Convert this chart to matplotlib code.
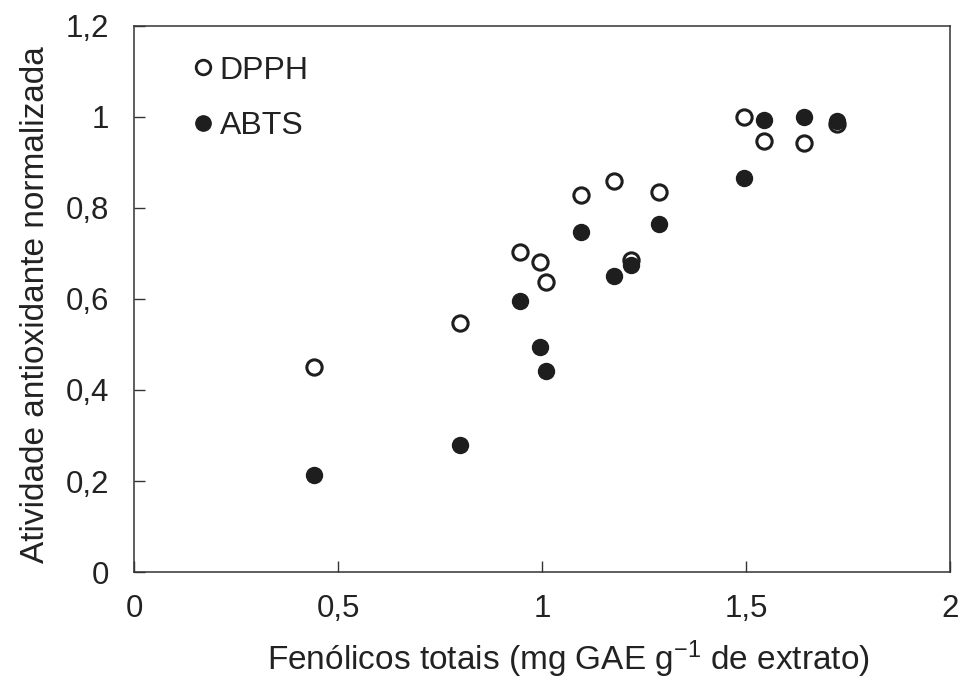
import matplotlib
matplotlib.use("Agg")
import matplotlib.pyplot as plt
from matplotlib.lines import Line2D

plt.rcParams['font.family'] = ['Liberation Sans', 'DejaVu Sans']
plt.rcParams['mathtext.default'] = 'regular'

# Data
fenolicos = [0.44, 0.80, 0.946, 0.995, 1.01, 1.095, 1.176, 1.218, 1.286, 1.494, 1.543, 1.643, 1.724]
dpph = [0.450, 0.548, 0.703, 0.681, 0.637, 0.829, 0.859, 0.686, 0.835, 1.000, 0.947, 0.943, 0.985]
abts = [0.213, 0.279, 0.596, 0.494, 0.442, 0.747, 0.651, 0.675, 0.765, 0.866, 0.993, 1.000, 0.991]

xticks = [0, 0.5, 1, 1.5, 2]
xticklabels = ['0', '0,5', '1', '1,5', '2']
yticks = [0, 0.2, 0.4, 0.6, 0.8, 1.0, 1.2]
yticklabels = ['0', '0,2', '0,4', '0,6', '0,8', '1', '1,2']

fig = plt.figure(figsize=(9.6, 6.81), dpi=100)
ax = fig.add_axes([0.1396, 0.160, 0.850, 0.802])

col = '#1e1e1e'
txt = '#222222'
ax.plot(fenolicos, abts, linestyle='none', marker='o', markersize=11.5,
        markerfacecolor=col, markeredgecolor=col, markeredgewidth=1, label='ABTS', zorder=3)
ax.plot(fenolicos, dpph, linestyle='none', marker='o', markersize=11,
        markerfacecolor='white', markeredgecolor=col, markeredgewidth=2.2, label='DPPH', zorder=2)

ax.set_xlim(0, 2)
ax.set_ylim(0, 1.2)
ax.set_xticks(xticks)
ax.set_xticklabels(xticklabels)
ax.set_yticks(yticks)
ax.set_yticklabels(yticklabels)
ax.tick_params(direction='in', length=8, width=1, colors='#333333', labelcolor=txt,
               labelsize=22.5)
ax.tick_params(axis='x', pad=16)
ax.tick_params(axis='y', pad=18)
for s in ax.spines.values():
    s.set_color('#333333')
    s.set_linewidth(1.1)

ax.set_xlabel('Fenólicos totais (mg GAE g$^{-1}$ de extrato)', fontsize=24, color=txt)
ax.set_ylabel('Atividade antioxidante normalizada', fontsize=24, color=txt)
ax.xaxis.label.set_va('center')
ax.yaxis.label.set_va('center')
ax.xaxis.set_label_coords(0.533, -0.160)
ax.yaxis.set_label_coords(-0.121, 0.49)

handles = [
    Line2D([], [], linestyle='none', marker='o', markersize=10.5, markerfacecolor='white',
           markeredgecolor=col, markeredgewidth=2),
    Line2D([], [], linestyle='none', marker='o', markersize=11, markerfacecolor=col,
           markeredgecolor=col),
]
ax.legend(handles, ['DPPH', 'ABTS'], loc='upper left', bbox_to_anchor=(0.046, 0.975),
          frameon=False, fontsize=23, handletextpad=0.0, labelspacing=0.8,
          handlelength=1.0, borderpad=0, labelcolor=txt)

fig.savefig('out.png', dpi=100)
